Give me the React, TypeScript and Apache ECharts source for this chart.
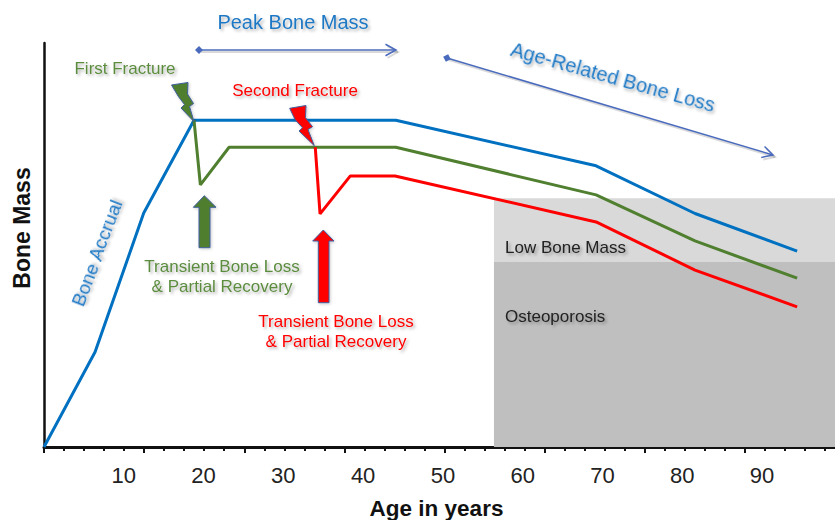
import React, { useEffect, useRef } from "react";
import * as echarts from "echarts";

const ageLabels = [10, 20, 30, 40, 50, 60, 70, 80, 90];
const axisMax = 100.4;
const tickStep = 12.55;

const peakAges = [0, 6.4, 12.5, 18.8, 44.1, 69.2, 81.6, 94.4];
const peakValues = [0, 23.5, 57.9, 80.9, 80.9, 69.6, 57.8, 48.5];
const firstAges = [18.8, 19.6, 23.2, 44.1, 69.2, 81.6, 94.4];
const firstValues = [80.9, 64.9, 74.2, 74.2, 62.4, 51, 41.8];
const secondAges = [34, 34.6, 38.4, 44, 69.2, 81.6, 94.4];
const secondValues = [74.2, 57.7, 67.1, 67.1, 55.7, 43.8, 34.7];

const zoneStartAge = 56.4;
const lowBoneTop = 61.6;
const osteoporosisTop = 45.8;

const BLUE = "#0070c0";
const GREEN = "#4f7f2f";
const RED = "#ff0000";
const OUTLINE = "#3f5f9f";
const ARROW = "#4a6bbd";
const FONT = '"Liberation Sans", Arial, sans-serif';

const pairs = (xs: number[], ys: number[]) => xs.map((x, i) => [x, ys[i]]);

const label = (text: string, x: number, y: number, size: number, color: string, rotation = 0, align = "center") => ({
  type: "text",
  x,
  y,
  rotation,
  z: 20,
  style: {
    text,
    fontFamily: FONT,
    fontSize: size,
    fill: color,
    align,
    verticalAlign: "middle",
    textShadowColor: "rgba(0,0,0,0.3)",
    textShadowBlur: 3,
    textShadowOffsetX: 2,
    textShadowOffsetY: 2,
  },
});

const shape = (points: number[][], fill: string) => ({
  type: "polygon",
  z: 15,
  shape: { points },
  style: { fill, stroke: OUTLINE, lineWidth: 1, shadowColor: "rgba(0,0,0,0.2)", shadowBlur: 3, shadowOffsetX: 1, shadowOffsetY: 1 },
});

const doubleArrow = (x1: number, y1: number, x2: number, y2: number) => {
  const a = Math.atan2(y2 - y1, x2 - x1);
  const h = 12;
  const w = 0.5;
  const s = 4;
  const c = Math.cos(a);
  const d = Math.sin(a);
  const head = (o: number) => [
    [x2 + o - h * Math.cos(a - w), y2 + o - h * Math.sin(a - w)],
    [x2 + o, y2 + o],
    [x2 + o - h * Math.cos(a + w), y2 + o - h * Math.sin(a + w)],
  ];
  const shadowStyle = { stroke: "rgba(0,0,0,0.15)", lineWidth: 2, fill: "none" };
  const lineStyle = { stroke: ARROW, lineWidth: 1.5, fill: "none" };
  return [
    { type: "line", z: 14, shape: { x1: x1 + 2, y1: y1 + 2, x2: x2 + 2, y2: y2 + 2 }, style: shadowStyle },
    { type: "polyline", z: 14, shape: { points: head(2) }, style: shadowStyle },
    { type: "line", z: 15, shape: { x1, y1, x2, y2 }, style: lineStyle },
    { type: "polyline", z: 15, shape: { points: head(0) }, style: lineStyle },
    {
      type: "polygon",
      z: 15,
      shape: {
        points: [
          [x1 - s * c, y1 - s * d],
          [x1 + s * d, y1 - s * c],
          [x1 + s * c, y1 + s * d],
          [x1 - s * d, y1 + s * c],
        ],
      },
      style: { fill: ARROW },
    },
  ];
};

export default function App() {
  const ref = useRef<HTMLDivElement>(null);
  useEffect(() => {
    const chart = echarts.init(ref.current!, undefined, { renderer: "svg" });
    const lineSeries = (name: string, data: number[][], color: string, extra = {}) => ({
      type: "line",
      name,
      data,
      symbol: "none",
      smooth: false,
      clip: false,
      xAxisIndex: 0,
      yAxisIndex: 0,
      lineStyle: { color, width: 3 },
      z: 5,
      ...extra,
    });
    chart.setOption({
      animation: false,
      backgroundColor: "#ffffff",
      grid: { left: 44, top: 43, width: 801, height: 404, outerBoundsMode: "none" },
      xAxis: [
        {
          type: "value",
          min: 0,
          max: axisMax,
          position: "bottom",
          name: "Age in years",
          nameLocation: "middle",
          nameGap: 50,
          nameTextStyle: { fontFamily: FONT, fontSize: 22.5, fontWeight: "bold", color: "#111", padding: [0, 16, 0, 0] },
          axisLine: { show: false },
          axisTick: { show: false },
          splitLine: { show: false },
          axisLabel: {
            customValues: ageLabels,
            margin: 17,
            fontFamily: FONT,
            fontSize: 22,
            color: "#222",
            hideOverlap: false,
          },
        },
        {
          type: "value",
          min: 0,
          max: axisMax,
          interval: tickStep,
          position: "bottom",
          axisLine: { show: true, onZero: false, lineStyle: { color: "#111", width: 3 } },
          axisTick: { show: true, length: 6, lineStyle: { color: "#111", width: 2 } },
          minorTick: { show: true, splitNumber: 5, length: 4, lineStyle: { color: "#111", width: 2 } },
          axisLabel: { show: false },
          splitLine: { show: false },
        },
      ],
      yAxis: {
        type: "value",
        min: 0,
        max: 100,
        name: "Bone Mass",
        nameLocation: "middle",
        nameRotate: 90,
        nameGap: 11,
        nameTextStyle: { fontFamily: FONT, fontSize: 23, fontWeight: "bold", color: "#111", padding: [0, 0, 0, 34] },
        axisLine: { show: true, lineStyle: { color: "#111", width: 2.5 } },
        axisTick: { show: false },
        axisLabel: { show: false },
        splitLine: { show: false },
      },
      series: [
        lineSeries("Peak", pairs(peakAges, peakValues), BLUE, {
          markArea: {
            silent: true,
            z: 1,
            data: [
              [
                { xAxis: zoneStartAge, yAxis: lowBoneTop, itemStyle: { color: "#d9d9d9" } },
                { xAxis: axisMax, yAxis: osteoporosisTop },
              ],
              [
                { xAxis: zoneStartAge, yAxis: osteoporosisTop, itemStyle: { color: "#bfbfbf" } },
                { xAxis: axisMax, yAxis: 0 },
              ],
            ],
          },
        }),
        lineSeries("After first fracture", pairs(firstAges, firstValues), GREEN),
        lineSeries("After second fracture", pairs(secondAges, secondValues), RED),
      ],
      graphic: [
        label("Peak Bone Mass", 293, 22, 20, "#1f78c4"),
        label("Age-Related Bone Loss", 613, 77, 20, "#1f78c4", -0.272),
        label("Bone Accrual", 97, 253, 19, "#1f78c4", 1.2),
        label("First Fracture", 125, 68, 17, "#5b8c3e"),
        label("Second Fracture", 295, 90, 17, RED),
        label("Transient Bone Loss", 222, 266, 17, "#5b8c3e"),
        label("& Partial Recovery", 222, 286, 17, "#5b8c3e"),
        label("Transient Bone Loss", 336, 321, 17, RED),
        label("& Partial Recovery", 336, 341, 17, RED),
        label("Low Bone Mass", 505, 247, 17, "#222", 0, "left"),
        label("Osteoporosis", 505, 316, 17, "#222", 0, "left"),
        ...doubleArrow(199, 50, 396, 50),
        ...doubleArrow(447, 58, 773, 155),
        shape([[171.5, 85], [188, 82.5], [187.5, 94], [193.5, 103.5], [189.5, 106.5], [194, 121.7], [181, 108], [184.5, 104.5], [178.5, 96.7]], GREEN),
        shape([[289.7, 108.3], [306, 105.5], [305.5, 117.7], [312.5, 126.7], [308, 129.5], [314.3, 145.7], [299, 131], [302.5, 127.8], [295, 119.5]], RED),
        shape([[204.3, 195.7], [216, 207.3], [210, 207.3], [210, 247.7], [199, 247.7], [199, 207.3], [193.3, 207.3]], GREEN),
        shape([[323.3, 230], [334, 241], [329, 241], [329, 302.7], [318.3, 302.7], [318.3, 241], [312.7, 241]], RED),
      ],
    });
    return () => chart.dispose();
  }, []);
  return <div ref={ref} style={{ position: "absolute", left: 0, top: 0, width: 835, height: 520, overflow: "hidden" }} />;
}
